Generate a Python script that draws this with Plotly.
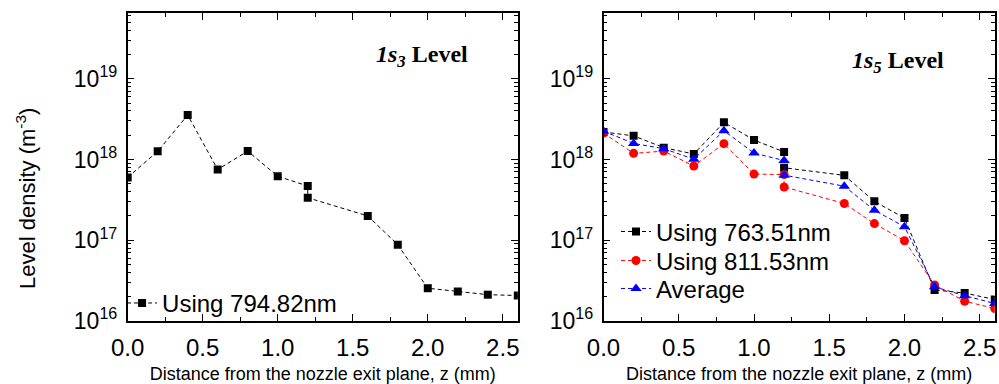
import plotly.graph_objects as go

# ---- data ----
z_left = [0.0, 0.2, 0.4, 0.6, 0.8, 1.0, 1.2, 1.2, 1.6, 1.8, 2.0, 2.2, 2.4, 2.6]
n_794 = [6.0e17, 1.26e18, 3.55e18, 7.5e17, 1.27e18, 6.2e17, 4.7e17, 3.36e17,
         2.0e17, 8.8e16, 2.55e16, 2.32e16, 2.12e16, 2.07e16]

z_right = [0.0, 0.2, 0.4, 0.6, 0.8, 1.0, 1.2, 1.2, 1.6, 1.8, 2.0, 2.2, 2.4, 2.6]
n_763 = [2.19e18, 1.96e18, 1.40e18, 1.17e18, 2.88e18, 1.74e18, 1.24e18, 7.9e17,
         6.36e17, 3.03e17, 1.88e17, 2.43e16, 2.22e16, 1.85e16]
n_811 = [2.12e18, 1.19e18, 1.27e18, 8.3e17, 1.57e18, 6.6e17, 6.5e17, 4.57e17,
         2.85e17, 1.61e17, 9.85e16, 2.79e16, 1.76e16, 1.43e16]
n_avg = [2.24e18, 1.58e18, 1.36e18, 1.01e18, 2.27e18, 1.20e18, 9.7e17, 6.4e17,
         4.67e17, 2.35e17, 1.47e17, 2.65e16, 2.06e16, 1.65e16]

x_ticks = [0.0, 0.5, 1.0, 1.5, 2.0, 2.5]
x_ticklabels = ["0.0", "0.5", "1.0", "1.5", "2.0", "2.5"]
y_ticks = [1e16, 1e17, 1e18, 1e19]
y_ticklabels = ["10<sup>16</sup>", "10<sup>17</sup>", "10<sup>18</sup>", "10<sup>19</sup>"]

SANS = "Arial, Liberation Sans, sans-serif"
SERIF = "Times New Roman, Liberation Serif, serif"
W, H = 999, 384
DASH = "4px,3px"

fig = go.Figure()

fig.add_trace(go.Scatter(
    x=z_left, y=n_794, mode="lines+markers", name="Using 794.82nm",
    line=dict(color="black", width=1, dash=DASH),
    marker=dict(symbol="square", size=8, color="black"),
    xaxis="x", yaxis="y", legend="legend"))

fig.add_trace(go.Scatter(
    x=z_right, y=n_763, mode="lines+markers", name="Using 763.51nm",
    line=dict(color="black", width=1, dash=DASH),
    marker=dict(symbol="square", size=8, color="black"),
    xaxis="x2", yaxis="y2", legend="legend2"))
fig.add_trace(go.Scatter(
    x=z_right, y=n_811, mode="lines+markers", name="Using 811.53nm",
    line=dict(color="red", width=1, dash=DASH),
    marker=dict(symbol="circle", size=9, color="red"),
    xaxis="x2", yaxis="y2", legend="legend3"))
fig.add_trace(go.Scatter(
    x=z_right, y=n_avg, mode="lines+markers", name="Average",
    line=dict(color="blue", width=1, dash=DASH),
    marker=dict(symbol="triangle-up", size=10, color="blue"),
    xaxis="x2", yaxis="y2", legend="legend4"))

ydom = [1 - 332.3 / H, 1 - 13.3 / H]

xcommon = dict(range=[0, 2.6], tickvals=x_ticks, ticktext=x_ticklabels,
               ticks="inside", ticklen=7, tickwidth=1.2, tickcolor="black",
               showline=True, linecolor="black", linewidth=1.5, mirror="allticks",
               showgrid=False, zeroline=False, ticklabelstandoff=4,
               minor=dict(dtick=0.25, tick0=0, ticks="inside", ticklen=4,
                          tickwidth=1.2, tickcolor="black", showgrid=False),
               tickfont=dict(family=SANS, size=24, color="black"),
               title=dict(text="Distance from the nozzle exit plane, z (mm)",
                          font=dict(family=SANS, size=18, color="black"),
                          standoff=10))
ycommon = dict(type="log", range=[16, 19.815], tickvals=y_ticks, ticktext=y_ticklabels,
               ticks="inside", ticklen=7, tickwidth=1.2, tickcolor="black",
               showline=True, linecolor="black", linewidth=1.5, mirror="allticks",
               showgrid=False, zeroline=False, ticklabelstandoff=4,
               minor=dict(dtick="D1", ticks="inside", ticklen=4, tickwidth=1,
                          tickcolor="black", showgrid=False),
               tickfont=dict(family=SANS, size=23, color="black"),
               domain=ydom)


def leg(xpx, ypx):
    return dict(x=xpx / W, y=1 - ypx / H, xanchor="left", yanchor="middle",
                bgcolor="rgba(0,0,0,0)", borderwidth=0,
                font=dict(family=SANS, size=24, color="black"),
                itemsizing="trace")


fig.update_layout(
    width=W, height=H, margin=dict(l=0, r=0, t=0, b=0),
    paper_bgcolor="white", plot_bgcolor="white",
    xaxis=dict(domain=[112.7 / W, 510 / W], anchor="y", **xcommon),
    yaxis=dict(anchor="x", **ycommon),
    xaxis2=dict(domain=[597.3 / W, 995.7 / W], anchor="y2", **xcommon),
    yaxis2=dict(anchor="x2", **ycommon),
    legend=leg(107, 302 + 12),
    legend2=leg(610, 231 + 9),
    legend3=leg(610, 261 + 9),
    legend4=leg(610, 290 + 9),
    showlegend=True,
)

fig.add_annotation(
    text="<b><i>1s<sub>3</sub></i> Level</b>", xref="paper", yref="paper",
    x=412 / W, y=1 - 58 / H, xanchor="center", yanchor="middle", showarrow=False,
    font=dict(family=SERIF, size=24, color="black"))
fig.add_annotation(
    text="<b><i>1s<sub>5</sub></i> Level</b>", xref="paper", yref="paper",
    x=897 / W, y=1 - 64 / H, xanchor="center", yanchor="middle", showarrow=False,
    font=dict(family=SERIF, size=24, color="black"))
fig.add_annotation(
    text="Level density (m<sup>-3</sup>)", xref="paper", yref="paper",
    x=9 / W, y=1 - 205 / H, xanchor="center", yanchor="middle", showarrow=False,
    textangle=-90, font=dict(family=SANS, size=22, color="black"))

fig.write_html("out.html")
